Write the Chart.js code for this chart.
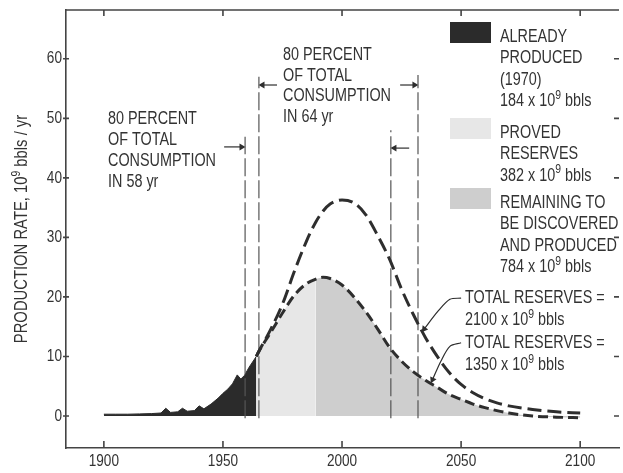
<!DOCTYPE html>
<html>
<head>
<meta charset="utf-8">
<script src="https://cdn.jsdelivr.net/npm/chart.js@4.4.1/dist/chart.umd.min.js"></script>
<style>
  html, body { margin: 0; padding: 0; background: #fff; }
  #chart { display: block; }
</style>
</head>
<body>
<canvas id="chart" width="623" height="473"></canvas>
<script>
// Liberation Sans squeezed sideways stands in for the narrow type of the original
const FONT = "'Liberation Sans', Arial, sans-serif";
const SQUEEZE = 0.8;
const INK = "#2e2e2e";
const TEXT = "#333";

// axis ticks
const xTicks = [1900, 1950, 2000, 2050, 2100];
const yTicks = [0, 10, 20, 30, 40, 50, 60];

// production already done (10^9 bbls / yr)
const producedYears = [1900, 1905, 1910, 1915, 1920, 1924, 1926, 1928, 1931, 1933, 1935, 1938, 1940, 1942, 1945, 1948, 1950, 1952, 1954, 1956, 1957.5, 1959, 1961, 1963, 1964];
const producedRate  = [0.3, 0.3, 0.3, 0.35, 0.4, 0.5, 1.3, 0.6, 0.7, 1.3, 0.8, 0.9, 1.7, 1.2, 2.0, 3.0, 3.8, 4.5, 5.4, 6.9, 6.2, 6.8, 8.2, 9.4, 10.0];

// both forecast curves use the same years
const curveYears = [1964, 1965, 1970, 1975, 1980, 1985, 1989, 1992, 1995, 2000, 2005, 2010, 2015, 2020, 2025, 2030, 2035, 2040, 2045, 2050, 2055, 2060, 2065, 2070, 2080, 2090, 2100];
const rate2100 = [10.0, 10.8, 14.5, 18.8, 24.3, 29.3, 32.6, 34.4, 35.6, 36.3, 35.8, 33.8, 30.3, 26.3, 21.3, 17.0, 13.2, 10.0, 7.3, 5.3, 3.9, 2.9, 2.2, 1.7, 1.1, 0.7, 0.5];
const rate1350 = [10.0, 10.8, 14.0, 17.3, 20.3, 22.2, 23.0, 23.3, 23.1, 22.0, 20.0, 17.5, 14.6, 11.5, 9.2, 7.4, 6.0, 4.8, 3.6, 2.8, 2.0, 1.4, 0.9, 0.5, 0.0, -0.2, -0.3];

// proved reserves sit between these years, the rest is still to be found
const provedFrom = 1964;
const provedTo = 1989;

// 80 percent brackets: [year, top]
const bracketLines = [[1959.3, 46.9], [1965.1, 57.0], [2020.5, 48.0], [2031.9, 57.3]];
// small arrows: [from year, to year, level, pointing angle]
const bracketArrows = [[1950.5, 1957.8, 45.2, 90], [1972.7, 1966.6, 55.6, 270], [2028.2, 2022.0, 45.0, 270], [2024.4, 2030.4, 55.6, 90]];
// leaders from the "total reserves" notes to the curves
const leader2100 = [[2050.0, 19.8], [2045.3, 19.6], [2040.3, 17.6], [2034.5, 14.6]];
const leader1350 = [[2050.0, 12.3], [2045.3, 11.7], [2041.5, 9.2], [2038.0, 6.1]];

const legendItems = [
    { color: "#2b2b2b", lines: ["ALREADY", "PRODUCED", "(1970)", "184 x 10{9} bbls"] },
    { color: "#e7e7e7", lines: ["PROVED", "RESERVES", "382 x 10{9} bbls"] },
    { color: "#cecece", lines: ["REMAINING TO", "BE DISCOVERED", "AND PRODUCED", "784 x 10{9} bbls"] }
];

const toPoints = (xs, ys) => xs.map((x, i) => ({ x: x, y: ys[i] }));
const lowPoints = toPoints(curveYears, rate1350);

const datasets = [];

datasets.push({
    data: toPoints(curveYears, rate2100),
    borderColor: INK, borderWidth: 3, borderDash: [14, 6],
    pointRadius: 0, cubicInterpolationMode: "monotone", fill: false, order: 1
});
datasets.push({
    data: lowPoints,
    borderColor: INK, borderWidth: 3, borderDash: [10, 5],
    pointRadius: 0, cubicInterpolationMode: "monotone", fill: false, order: 1
});

bracketLines.forEach(([year, topValue]) => {
    datasets.push({
        data: [{ x: year, y: -0.4 }, { x: year, y: topValue }],
        borderColor: "#555", borderWidth: 1.2, borderDash: [18, 4],
        pointRadius: 0, fill: false, order: 2
    });
});

bracketArrows.forEach(([from, to, level, angle]) => {
    datasets.push({
        data: [{ x: from, y: level }, { x: to, y: level }],
        borderColor: INK, borderWidth: 1.2,
        pointRadius: [0, 4], pointStyle: "triangle", pointRotation: [0, angle],
        pointBackgroundColor: INK, pointBorderColor: INK, pointBorderWidth: 0,
        fill: false, order: 2
    });
});

[[leader2100, 218], [leader1350, 205]].forEach(([pts, angle]) => {
    datasets.push({
        data: pts.map(p => ({ x: p[0], y: p[1] })),
        borderColor: INK, borderWidth: 1.2, tension: 0.3,
        pointRadius: [0, 0, 0, 4], pointStyle: "triangle", pointRotation: [0, 0, 0, angle],
        pointBackgroundColor: INK, pointBorderColor: INK, pointBorderWidth: 0,
        fill: false, order: 2
    });
});

datasets.push({
    data: toPoints(producedYears, producedRate),
    borderColor: "#2b2b2b", borderWidth: 1, backgroundColor: "#2b2b2b",
    pointRadius: 0, fill: "origin", order: 4
});
datasets.push({
    data: lowPoints.filter(p => p.x >= provedFrom && p.x <= provedTo),
    borderWidth: 0, backgroundColor: "#e7e7e7",
    pointRadius: 0, cubicInterpolationMode: "monotone", fill: "origin", order: 4
});
datasets.push({
    data: lowPoints.filter(p => p.x >= provedTo),
    borderWidth: 0, backgroundColor: "#cecece",
    pointRadius: 0, cubicInterpolationMode: "monotone", fill: "origin", order: 4
});

// superscripts are written as {9}; returns the drawn width
function drawRich(ctx, text, x, y, size, measureOnly) {
    const parts = text.split(/\{(\d+)\}/);
    let cx = 0;
    ctx.save();
    ctx.translate(x, y);
    ctx.scale(SQUEEZE, 1);
    parts.forEach((p, i) => {
        const sup = i % 2 === 1;
        ctx.font = (sup ? Math.round(size * 0.7) : size) + "px " + FONT;
        if (!measureOnly) ctx.fillText(p, cx, sup ? -size * 0.32 : 0);
        cx += ctx.measureText(p).width;
    });
    ctx.restore();
    return cx * SQUEEZE;
}

const decorations = {
    id: "decorations",
    afterDatasetsDraw(chart) {
        const ctx = chart.ctx;
        const { left, right, top, bottom } = chart.chartArea;
        const xs = chart.scales.x;
        const ys = chart.scales.y;

        ctx.save();
        // frame top line and inward ticks
        ctx.strokeStyle = "#444";
        ctx.lineWidth = 1.6;
        ctx.beginPath();
        ctx.moveTo(left, top);
        ctx.lineTo(right, top);
        xTicks.forEach(v => {
            const px = xs.getPixelForValue(v);
            ctx.moveTo(px, bottom); ctx.lineTo(px, bottom - 7);
            ctx.moveTo(px, top); ctx.lineTo(px, top + 6);
        });
        yTicks.forEach(v => {
            const py = ys.getPixelForValue(v);
            ctx.moveTo(left - 3, py); ctx.lineTo(left + 3, py);
            ctx.moveTo(right, py); ctx.lineTo(right - 5, py);
        });
        ctx.stroke();

        ctx.fillStyle = TEXT;
        ctx.textBaseline = "middle";
        ctx.textAlign = "left";

        // tick labels
        xs.ticks.forEach(t => {
            const label = String(t.value);
            const w = drawRich(ctx, label, 0, 0, 17, true);
            drawRich(ctx, label, xs.getPixelForValue(t.value) - w / 2, bottom + 13, 17);
        });
        ys.ticks.forEach(t => {
            const label = String(t.value);
            const w = drawRich(ctx, label, 0, 0, 17, true);
            drawRich(ctx, label, left - 4 - w, ys.getPixelForValue(t.value), 17);
        });

        // y axis title
        ctx.save();
        ctx.translate(22, (top + bottom) / 2);
        ctx.rotate(-Math.PI / 2);
        const title = "PRODUCTION RATE, 10{9} bbls / yr";
        const w = drawRich(ctx, title, 0, 0, 18.5, true);
        drawRich(ctx, title, -w / 2, 0, 18.5);
        ctx.restore();

        const block = (lines, x, y0, step) => {
            lines.forEach((t, i) => drawRich(ctx, t, x, y0 + i * step, 18));
        };
        block(["80 PERCENT", "OF TOTAL", "CONSUMPTION", "IN 58 yr"], 108, 119, 21);
        block(["80 PERCENT", "OF TOTAL", "CONSUMPTION", "IN 64 yr"], 283, 55, 20.7);
        block(["TOTAL RESERVES =", "2100 x 10{9} bbls"], 465, 298, 22);
        block(["TOTAL RESERVES =", "1350 x 10{9} bbls"], 465, 343, 22);

        // legend
        const boxTops = [22, 118, 188];
        legendItems.forEach((item, i) => {
            ctx.fillStyle = item.color;
            ctx.fillRect(450, boxTops[i], 41, 21);
            ctx.fillStyle = TEXT;
            block(item.lines, 500, boxTops[i] + 15, 21.3);
        });
        ctx.restore();
    }
};

Chart.defaults.font.family = FONT;

new Chart(document.getElementById("chart"), {
    type: "line",
    data: { datasets: datasets },
    options: {
        responsive: false,
        animation: false,
        layout: { padding: { top: 10, right: 0, bottom: 0, left: 0 } },
        plugins: { legend: { display: false }, tooltip: { enabled: false } },
        scales: {
            x: {
                type: "linear", min: 1884.1, max: 2116.3,
                afterBuildTicks: s => { s.ticks = xTicks.map(v => ({ value: v })); },
                afterFit: s => { s.height = 25; },
                grid: { display: false, drawTicks: false },
                border: { display: true, color: "#444", width: 1.6 },
                ticks: { display: false }
            },
            y: {
                type: "linear", min: -5.38, max: 68.2,
                afterBuildTicks: s => { s.ticks = yTicks.map(v => ({ value: v })); },
                afterFit: s => { s.width = 66; },
                grid: { display: false, drawTicks: false },
                border: { display: true, color: "#444", width: 1.6 },
                ticks: { display: false }
            }
        }
    },
    plugins: [decorations]
});
</script>
</body>
</html>
